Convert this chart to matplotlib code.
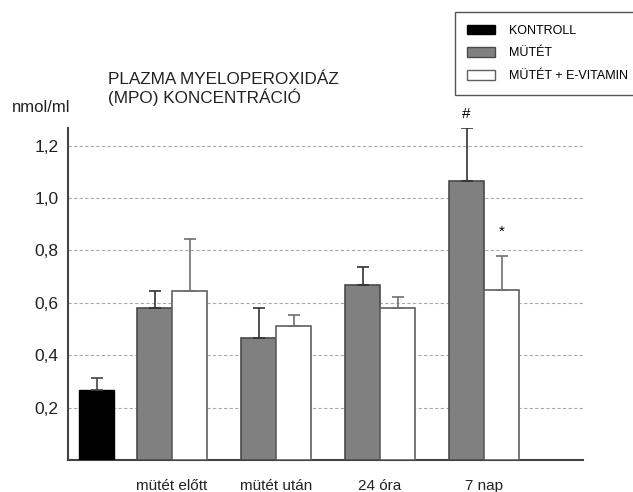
import matplotlib
matplotlib.use('Agg')
import matplotlib.pyplot as plt
from matplotlib.patches import Patch

plt.rcParams['font.family'] = ['Liberation Sans', 'DejaVu Sans']

categories = ['mütét előtt', 'mütét után', '24 óra', '7 nap']
kontroll = 0.267
kontroll_err = 0.046
mutet = [0.58, 0.466, 0.668, 1.065]
mutet_err = [0.065, 0.114, 0.069, 0.202]
vitamin = [0.645, 0.511, 0.58, 0.649]
vitamin_err = [0.198, 0.042, 0.042, 0.13]
yticks = [0.2, 0.4, 0.6, 0.8, 1.0, 1.2]
ytick_labels = ['0,2', '0,4', '0,6', '0,8', '1,0', '1,2']
legend_labels = ['KONTROLL', 'MÜTÉT', 'MÜTÉT + E-VITAMIN']

# layout
group_x = [1, 2, 3, 4]
kontroll_x = 0.274
w = 0.337

fig = plt.figure(figsize=(6.33, 4.92), dpi=100)
ax = fig.add_axes([68 / 633, 32 / 492, 515 / 633, 332 / 492])

ax.bar(kontroll_x, kontroll, w, color='black', edgecolor='black', linewidth=1, zorder=3)
ax.errorbar(kontroll_x, kontroll, yerr=[[0], [kontroll_err]], fmt='none',
            ecolor='#444444', elinewidth=1.2, capsize=4.5, capthick=1.2, zorder=4)

gx = [x - w / 2 for x in group_x]
wx = [x + w / 2 for x in group_x]
ax.bar(gx, mutet, w, color='#808080', edgecolor='#4a4a4a', linewidth=1.2, zorder=3)
ax.errorbar(gx, mutet, yerr=[[0] * 4, mutet_err], fmt='none',
            ecolor='#333333', elinewidth=1.2, capsize=4.5, capthick=1.2, zorder=4)
ax.bar(wx, vitamin, w, color='white', edgecolor='#606060', linewidth=1.2, zorder=3)
ax.errorbar(wx, vitamin, yerr=[[0] * 4, vitamin_err], fmt='none',
            ecolor='#707070', elinewidth=1.2, capsize=4.5, capthick=1.2, zorder=4)

# significance marks
ax.annotate('#', (gx[3], mutet[3] + mutet_err[3]), xytext=(0, 5), textcoords='offset points',
            ha='center', va='bottom', fontsize=11, annotation_clip=False)
ax.annotate('*', (wx[3], vitamin[3] + vitamin_err[3]), xytext=(0, 12), textcoords='offset points',
            ha='center', va='bottom', fontsize=11, annotation_clip=False)

ax.set_xlim(0, 4.95)
ax.set_ylim(0, 1.267)
ax.set_yticks(yticks)
ax.set_yticklabels(ytick_labels, fontsize=12.5, color='#222222')
ax.set_xticks(group_x)
ax.set_xticklabels(categories, fontsize=11, color='#222222')
ax.tick_params(axis='both', length=0)
ax.tick_params(axis='y', pad=7)
ax.tick_params(axis='x', pad=14)

ax.yaxis.grid(True, linestyle=(0, (3, 2)), color='#aaaaaa', linewidth=0.8, zorder=0)
ax.set_axisbelow(True)
for s in ['top', 'right']:
    ax.spines[s].set_visible(False)
for s in ['left', 'bottom']:
    ax.spines[s].set_color('#444444')
    ax.spines[s].set_linewidth(1.5)

fig.text(108 / 633, 1 - 89 / 492, 'PLAZMA MYELOPEROXIDÁZ\n(MPO) KONCENTRÁCIÓ',
         fontsize=12.3, ha='left', va='center', linespacing=1.15, color='#222222')
fig.text(12 / 633, 1 - 108 / 492, 'nmol/ml', fontsize=12, ha='left', va='center', color='#222222')

handles = [Patch(facecolor='black', edgecolor='black'),
           Patch(facecolor='#808080', edgecolor='#4a4a4a'),
           Patch(facecolor='white', edgecolor='#606060')]
leg = fig.legend(handles, legend_labels, loc='upper left',
                 bbox_to_anchor=(455 / 633, 0, 1 - 455 / 633 + 0.01, 1 - 12 / 492),
                 mode='expand', borderaxespad=0, fontsize=9, fancybox=False,
                 frameon=True, edgecolor='#555555', framealpha=1,
                 handlelength=2.2, handleheight=0.8, handletextpad=1.1,
                 labelspacing=0.86, borderpad=1.0)
leg.get_frame().set_linewidth(1.0)

fig.savefig('out.png', dpi=100)
